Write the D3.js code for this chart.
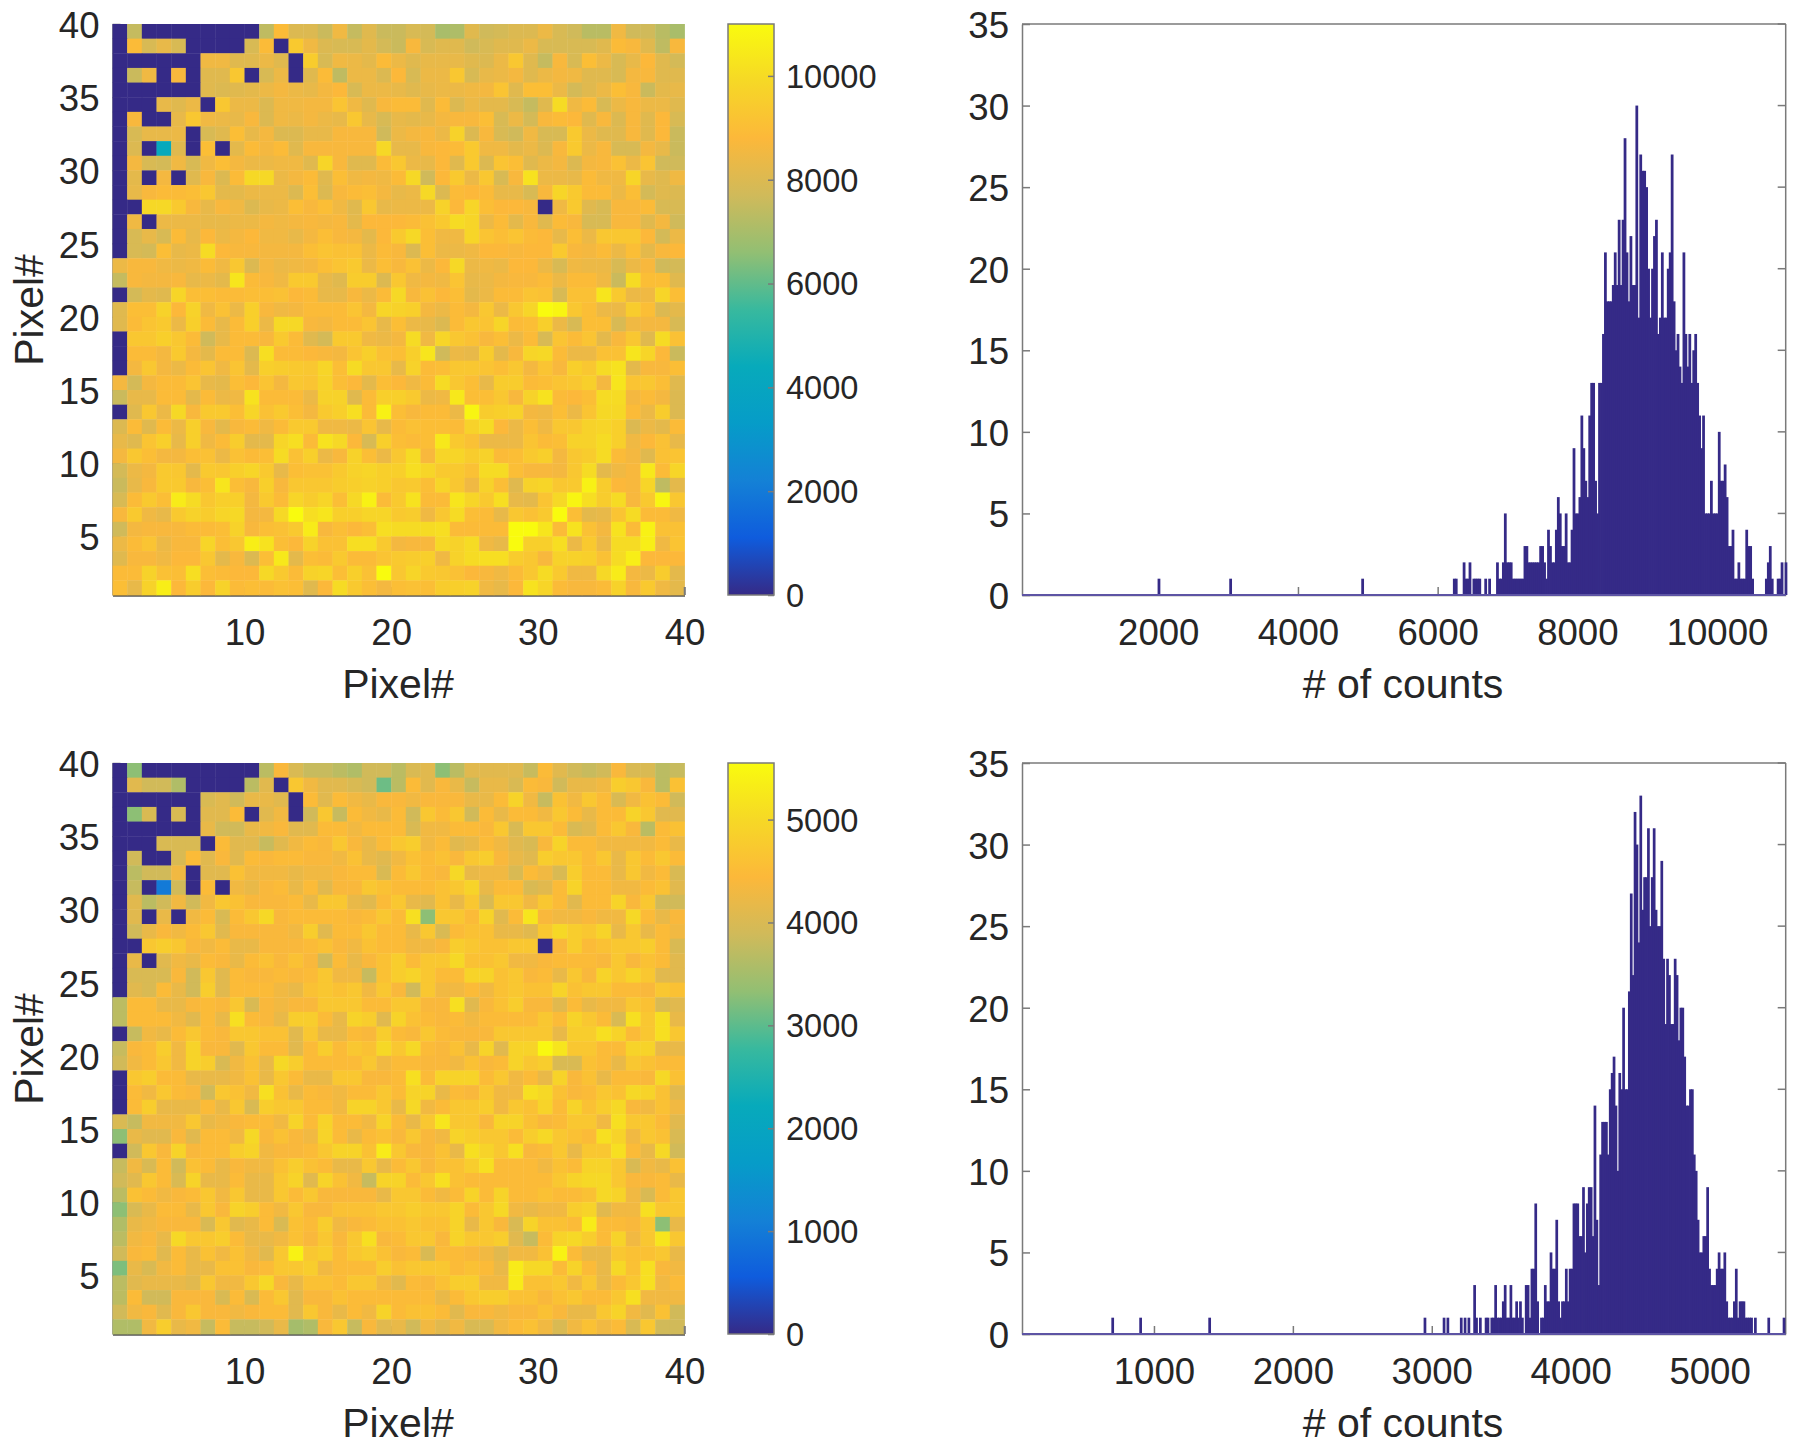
<!DOCTYPE html>
<html>
<head>
<meta charset="utf-8">
<script src="https://cdn.jsdelivr.net/npm/d3@7"></script>
<style>
    body { margin: 0; background: #fff; }
    text { font-family: "Liberation Sans", Arial, sans-serif; fill: #262626; }
</style>
</head>
<body>
<script>
//data
//cell values in hundreds of counts, first row is Pixel# 39-40, last row is Pixel# 1-2
var heatTopRows = [
[0,75,0,0,0,0,0,0,0,0,74,89,80,80,76,85,75,81,76,76,79,78,70,71,81,77,78,80,80,84,79,77,73,73,85,77,77,73,70],
[0,89,79,83,79,0,0,0,0,79,89,0,94,85,80,79,79,82,78,76,87,79,81,81,77,79,81,81,84,79,79,79,79,81,89,87,81,74,87],
[0,0,0,0,0,0,85,85,81,81,84,81,0,95,79,85,84,82,89,84,81,83,83,83,81,80,84,93,81,75,87,79,90,84,79,83,88,81,78],
[0,76,85,0,87,0,81,81,93,0,79,84,0,81,89,74,84,84,80,88,79,84,84,93,79,83,84,86,81,84,86,85,81,81,79,86,87,81,81],
[0,0,0,0,0,0,81,80,81,82,84,86,84,83,86,88,79,84,84,83,81,83,84,84,85,86,92,81,90,90,84,78,81,84,90,87,76,82,83],
[0,0,0,83,81,84,0,93,84,84,80,85,85,86,86,92,85,81,87,89,89,81,89,80,84,82,82,79,75,81,100,85,89,79,84,87,84,84,81],
[0,87,0,0,83,93,85,84,83,87,80,85,84,86,84,83,93,83,79,83,82,83,86,87,87,90,79,84,78,87,89,88,81,87,80,87,81,88,79],
[0,79,83,83,84,0,79,81,90,83,86,80,80,83,83,87,87,87,77,84,86,87,84,97,80,87,79,77,85,79,79,94,84,81,81,87,81,88,76],
[0,80,0,43,81,0,90,0,82,89,86,89,81,87,87,87,87,87,99,83,83,87,88,89,94,85,85,82,84,80,87,94,84,87,79,79,86,83,76],
[0,86,79,78,85,79,85,90,86,84,84,85,85,81,98,87,81,81,89,93,84,83,88,81,94,80,92,90,81,84,86,80,86,87,91,84,92,77,77],
[0,82,0,86,0,81,87,80,89,99,99,84,86,89,81,90,85,86,85,89,99,77,88,94,84,93,79,87,102,84,84,83,89,85,85,98,83,81,85],
[0,83,87,89,89,90,93,82,82,84,84,84,80,90,80,87,89,90,86,83,84,99,80,89,88,89,83,83,79,87,98,94,89,89,84,90,78,81,80],
[0,0,99,99,94,87,83,87,85,80,83,84,90,87,90,85,81,93,83,84,84,84,97,88,98,90,88,88,87,0,85,94,81,79,87,87,89,79,79],
[0,85,0,84,84,84,83,83,84,84,86,85,86,87,86,87,82,88,88,88,89,91,94,100,98,84,89,82,87,81,89,87,79,79,87,87,81,86,77],
[0,79,83,79,89,83,88,84,86,88,85,85,83,86,90,87,86,82,88,94,99,90,85,85,98,92,90,92,89,88,83,90,84,93,93,93,88,78,84],
[0,79,78,90,83,84,100,88,87,87,86,86,86,90,92,91,91,84,89,87,80,90,84,84,85,88,88,87,88,88,94,87,86,89,84,90,82,87,88],
[84,87,87,85,84,85,89,85,93,80,86,84,85,86,90,92,94,84,90,87,91,84,88,99,84,85,84,88,88,84,79,85,84,84,79,84,87,77,78],
[75,87,86,86,87,83,84,82,103,89,87,85,94,94,83,81,95,95,80,93,85,86,85,92,83,84,86,87,87,89,84,89,89,85,76,100,90,90,81],
[0,78,82,81,98,90,90,89,89,90,90,91,88,89,83,83,87,84,89,99,87,91,88,90,82,84,89,89,92,91,79,91,91,103,94,84,85,98,90],
[81,90,90,97,88,97,85,91,84,96,87,85,86,89,89,89,92,86,98,97,96,86,84,89,86,93,84,93,98,110,108,93,90,84,84,95,90,80,82],
[81,89,92,94,84,96,89,83,89,96,84,99,99,87,86,89,89,92,83,90,84,83,80,89,93,92,98,89,90,96,84,79,90,90,79,85,86,86,79],
[0,93,93,96,93,89,77,83,89,89,87,94,89,81,78,94,94,85,84,86,100,85,98,93,91,87,90,84,89,79,92,89,92,82,87,93,81,100,91],
[0,89,89,86,94,86,82,89,89,80,101,89,89,88,87,86,92,96,91,90,96,103,77,84,83,95,82,87,98,99,89,84,84,91,91,103,98,88,76],
[0,86,93,86,84,89,92,85,92,82,96,95,94,93,98,90,100,93,93,83,97,89,90,93,93,92,90,93,86,92,87,96,93,100,102,82,87,87,90],
[86,78,86,89,89,92,83,82,90,88,92,86,93,92,97,90,88,82,90,88,85,89,100,93,90,83,95,95,89,90,92,93,96,86,103,92,93,90,81],
[76,83,83,89,89,82,89,84,85,102,89,89,89,84,97,97,81,89,96,96,94,84,85,104,90,90,93,87,97,102,89,88,90,100,100,86,89,86,80],
[0,81,93,84,99,87,94,94,90,98,91,94,90,86,94,96,101,89,107,90,87,89,89,84,108,95,96,97,86,85,90,84,92,99,99,89,84,95,80],
[80,89,81,89,84,96,87,82,87,89,85,89,94,94,85,85,84,92,83,89,91,90,90,89,97,100,88,84,90,85,93,93,97,98,96,80,84,82,89],
[83,81,92,96,83,96,85,89,95,82,82,98,101,89,102,99,88,79,96,90,89,90,104,94,91,84,84,84,92,89,90,97,97,100,96,85,88,91,83],
[86,93,90,86,86,90,91,84,91,89,90,100,91,96,84,87,97,90,84,93,100,87,98,98,95,97,89,90,94,96,86,93,95,100,89,86,81,91,92],
[78,84,86,94,93,82,94,93,96,98,94,83,90,91,91,94,97,98,96,96,101,98,94,94,91,100,100,90,87,87,86,93,100,82,85,87,104,89,98],
[76,83,87,94,94,87,90,103,90,87,96,87,93,93,93,95,96,97,96,93,94,90,98,93,85,97,90,81,97,98,93,94,107,95,88,87,98,74,82],
[79,89,94,90,105,100,93,96,96,86,94,89,98,95,98,90,99,107,89,94,102,89,89,103,98,94,101,83,82,92,99,108,101,95,100,87,94,108,93],
[87,94,85,83,94,97,95,98,99,86,86,99,110,101,103,96,96,98,98,94,95,85,93,100,90,89,83,93,91,94,110,90,82,83,92,100,89,89,85],
[77,86,87,87,87,89,89,90,97,87,90,91,94,105,87,90,88,90,101,100,100,100,101,89,89,89,89,110,110,103,89,102,91,86,102,89,107,91,91],
[84,89,92,84,87,87,98,90,93,106,102,90,88,97,91,91,101,101,94,86,87,87,99,97,100,85,83,110,96,96,101,84,94,84,100,100,106,85,92],
[81,87,87,85,88,88,93,82,87,80,90,104,82,90,89,94,89,89,92,94,95,96,85,97,100,101,101,95,93,87,97,97,96,91,100,106,88,88,88],
[89,89,97,91,90,101,90,89,88,88,99,94,89,97,98,90,96,91,110,93,98,94,93,91,88,87,85,89,93,100,94,85,85,99,105,86,84,95,82],
[90,83,97,106,88,95,88,97,89,90,89,91,90,81,88,100,94,90,86,90,91,90,95,96,97,85,83,88,102,98,89,87,87,89,97,87,94,85,82]
];

var heatBottomRows = [
[0,33,0,0,0,0,0,0,0,0,37,44,40,38,38,37,36,39,39,37,40,41,33,37,41,41,41,41,38,45,41,39,38,39,44,40,40,37,38],
[0,41,39,39,36,0,0,0,0,37,41,0,47,43,41,41,40,39,31,37,45,41,44,42,38,42,42,40,45,44,39,42,42,43,48,47,44,37,46],
[0,0,0,0,0,0,40,41,39,42,42,41,0,45,41,45,43,42,44,44,43,44,44,44,42,42,45,49,43,38,46,43,47,45,40,43,46,45,39],
[0,33,40,0,40,0,41,41,45,0,41,43,0,39,47,38,45,43,42,45,39,47,45,47,39,45,42,45,45,43,47,45,42,45,45,49,47,41,41],
[0,0,0,0,0,0,42,39,39,42,43,44,41,41,45,45,43,45,45,45,40,43,43,45,45,44,47,40,47,47,45,40,41,45,47,44,37,45,46],
[0,0,0,40,40,40,0,45,41,41,38,41,43,45,44,47,44,42,45,47,48,43,45,41,42,45,43,41,40,44,49,45,45,43,43,43,43,45,42],
[0,39,0,0,40,45,41,44,41,45,44,45,45,44,44,43,46,42,41,43,46,45,46,44,47,48,44,42,41,48,47,47,45,47,42,47,45,47,45],
[0,37,39,39,43,0,41,41,46,43,43,43,42,43,43,44,45,45,40,45,47,45,44,50,42,43,43,40,45,43,40,48,45,45,42,47,43,45,40],
[0,38,0,10,39,0,45,0,43,42,44,45,42,45,41,44,44,47,46,45,45,45,46,47,49,42,45,45,40,41,45,49,45,45,43,43,45,46,41],
[0,41,37,39,43,39,43,47,46,44,44,44,45,42,47,47,42,41,45,47,42,41,46,42,47,40,47,47,43,47,45,41,45,45,49,44,47,39,39],
[0,41,0,42,0,43,45,40,45,47,50,44,45,45,45,45,44,45,47,45,51,33,47,47,45,49,41,45,52,44,43,43,44,43,43,50,45,42,44],
[0,39,42,44,43,45,47,41,44,44,44,44,43,48,41,45,45,47,45,45,42,47,40,45,46,46,42,42,41,47,50,48,47,49,42,47,42,45,43],
[0,0,47,48,47,44,43,45,42,42,44,44,44,45,46,44,43,46,45,45,43,43,44,48,47,46,46,47,47,0,44,48,45,46,47,47,48,45,40],
[0,42,0,41,43,42,45,44,42,45,46,44,46,44,39,45,42,44,46,48,45,47,47,50,46,46,47,43,43,44,45,45,45,44,47,44,46,45,41],
[0,40,40,40,44,39,47,41,45,44,44,45,44,45,47,43,43,38,46,48,49,47,45,45,49,49,46,47,44,45,42,47,44,49,47,49,47,41,41],
[0,41,40,45,42,39,48,41,45,45,45,43,42,46,47,46,47,43,47,44,39,47,43,43,45,43,46,47,46,46,49,46,47,47,45,45,44,47,46],
[37,45,45,42,42,44,45,44,47,40,44,43,44,44,47,47,47,45,45,47,47,44,44,51,41,44,46,48,44,44,41,45,42,43,43,47,46,40,41],
[37,45,45,45,43,41,45,42,51,45,44,42,48,48,45,42,49,48,41,49,46,45,44,45,43,45,45,45,45,47,45,49,47,45,40,51,47,51,42],
[0,38,43,42,45,47,45,44,47,47,46,46,41,47,42,42,45,44,48,45,44,47,45,44,44,44,47,47,47,47,42,48,48,51,49,45,47,51,47],
[38,44,45,48,43,49,44,44,41,47,45,45,41,45,48,45,47,46,50,47,50,45,44,46,42,49,41,49,49,55,52,47,47,45,45,49,49,42,42],
[39,43,45,47,43,49,48,40,43,46,42,50,48,45,45,45,45,47,43,45,45,44,44,43,46,44,45,49,47,48,40,40,46,45,42,47,46,45,45],
[0,47,48,45,45,42,42,42,43,46,42,47,45,42,42,47,47,44,44,45,51,45,49,49,49,45,47,43,45,42,49,44,46,42,45,45,44,50,46],
[0,45,43,47,45,44,39,47,46,43,51,46,42,45,44,43,45,45,47,45,49,49,42,45,44,47,43,43,51,50,46,44,45,47,46,50,49,46,41],
[0,45,48,42,42,42,45,42,47,40,48,47,47,45,45,43,49,49,47,42,50,43,45,47,47,48,43,47,46,49,45,49,46,48,50,44,43,46,43],
[40,38,43,43,43,47,42,43,44,45,45,43,49,45,49,45,45,43,49,45,42,47,52,47,47,44,49,49,46,44,45,47,47,43,51,47,47,45,41],
[33,42,41,41,44,41,45,45,43,50,44,46,44,43,49,45,42,45,46,44,47,44,43,49,48,47,47,45,48,50,47,46,45,51,49,43,47,46,40],
[0,39,47,44,49,44,45,45,48,49,43,44,44,45,47,49,49,46,53,47,44,44,46,42,51,49,47,51,44,45,47,42,47,47,51,45,42,50,39],
[38,43,40,45,39,46,45,42,44,43,43,46,48,46,45,42,42,47,42,45,47,44,46,46,48,51,45,45,45,43,46,45,49,49,47,40,43,42,46],
[39,41,47,45,40,49,42,42,45,42,42,47,49,41,49,46,43,38,49,49,45,47,51,46,45,45,45,45,45,45,47,49,50,50,47,44,44,45,42],
[37,46,45,43,44,45,47,43,47,42,42,47,45,47,44,44,44,44,42,47,47,45,43,45,49,45,49,45,45,46,45,45,46,50,49,43,40,45,47],
[33,40,42,45,45,42,47,44,49,48,45,43,47,44,44,46,46,46,47,47,48,47,47,49,45,47,50,43,42,43,43,48,49,41,43,43,51,47,47],
[36,42,43,44,44,44,40,47,41,42,45,40,46,45,48,43,44,45,46,46,47,46,46,49,42,47,44,40,49,46,46,45,53,45,45,44,47,33,42],
[37,43,44,42,50,47,47,48,45,42,42,43,46,44,47,44,47,51,44,45,47,47,44,49,47,47,48,41,38,45,49,50,48,45,49,43,47,52,47],
[39,44,45,41,45,42,46,43,46,43,41,47,54,47,48,45,47,48,46,44,45,40,45,45,44,43,41,43,43,46,54,45,42,42,47,46,46,47,42],
[32,42,40,43,45,42,42,46,46,44,45,47,47,48,43,45,45,45,48,46,47,47,47,45,46,45,42,53,50,50,45,49,45,42,50,46,51,44,43],
[37,41,42,42,42,41,47,43,43,47,50,44,42,46,46,45,47,47,43,41,45,44,46,48,48,43,43,53,46,46,47,43,47,42,45,47,51,43,45],
[37,45,39,39,44,44,44,40,45,40,45,47,41,44,44,46,45,45,45,45,45,45,42,45,47,48,48,46,46,44,46,47,45,45,47,51,43,43,43],
[39,43,44,41,44,47,44,44,43,44,45,45,41,47,44,42,45,43,49,45,46,46,45,41,44,44,43,44,44,46,44,42,42,47,49,43,41,46,39],
[36,36,43,48,42,43,38,45,38,38,39,42,35,36,44,47,38,44,41,42,39,43,41,43,40,40,43,45,46,43,40,43,46,43,45,40,47,39,39]
];

var histTopCounts = [1,1,0,0,0,2,1,1,2,0,1,1,1,1,0,0,1,0,1,0,0,0,2,1,1,2,5,2,2,2,1,1,1,1,1,1,3,3,2,2,2,2,2,2,3,3,2,1,4,3,2,2,4,6,5,3,3,5,2,2,4,9,5,5,6,11,9,7,6,11,13,13,7,5,13,13,16,21,18,18,18,19,21,19,23,19,23,28,21,18,22,19,19,30,17,27,26,26,25,20,17,20,22,23,16,17,21,17,17,20,21,27,18,15,16,14,13,21,16,14,16,13,15,16,13,11,9,11,5,5,5,7,5,5,5,10,7,7,8,6,3,3,4,1,1,2,1,1,1,4,3,3,1,0,0,0,0,0,0,1,2,3,1,0,0,1,1,2,0,2];
var histBottomCounts = [1,0,0,0,0,0,0,0,0,0,1,0,1,0,0,0,0,0,0,1,0,1,0,1,0,0,3,1,0,1,0,0,1,1,0,1,1,3,1,1,1,2,3,1,1,3,1,1,2,1,2,1,0,3,3,1,4,4,8,2,0,1,1,3,2,2,5,4,4,7,2,1,2,2,4,2,4,4,8,8,8,6,6,9,5,8,9,9,6,14,7,3,11,13,13,13,11,15,16,17,14,10,16,15,20,15,15,21,27,22,32,30,24,33,26,28,28,31,25,28,31,26,25,25,29,23,19,23,22,19,19,23,22,18,20,20,17,14,14,15,15,11,10,7,5,5,6,6,9,4,3,3,3,4,5,4,4,5,2,1,1,1,2,4,1,2,2,2,1,1,1,1,0,1,0,0,0,0,0,0,1,0,0,0,0,0,0,0,1];
var histTopOutliers = [2010, 3036, 4926];
var histBottomOutliers = [703, 904, 1401];
var histTopStart = 6238;
var histTopBinWidth = 28.1;
var histBottomStart = 2951;
var histBottomBinWidth = 13.75;
//end data

var xDomainTop = [49, 10983];
var xDomainBottom = [50, 5548];
var colorMaxTop = 11000;
var colorMaxBottom = 5550;

var heatXTicks = [10, 20, 30, 40];
var heatYTicks = [5, 10, 15, 20, 25, 30, 35, 40];
var colorTicksTop = [0, 2000, 4000, 6000, 8000, 10000];
var colorTicksBottom = [0, 1000, 2000, 3000, 4000, 5000];
var histYTicks = [0, 5, 10, 15, 20, 25, 30, 35];
var histXTicksTop = [2000, 4000, 6000, 8000, 10000];
var histXTicksBottom = [1000, 2000, 3000, 4000, 5000];

var parulaStops = ['#352a87', '#0f5cdd', '#1481d6', '#069cc8', '#07aabb', '#38b99e', '#92bf73', '#d0ba5a', '#fcb83a', '#f6d826', '#f9fb0e'];
var parulaDomain = [0, .1, .2, .3, .4, .5, .6, .7, .8, .9, 1];
var parula = d3.scaleLinear().domain(parulaDomain).range(parulaStops).clamp(true);

var axisColor = '#7a7a7a';
var barColor = '#352a87';
var tickFont = 36.6;
var colorbarFont = 32.6;
var labelFont = 41;

var svg = d3.select('body').append('svg')
    .attr('width', 1800)
    .attr('height', 1451);

var defs = svg.append('defs');
var gradient = defs.append('linearGradient')
    .attr('id', 'parulaGradient')
    .attr('x1', 0).attr('x2', 0).attr('y1', 1).attr('y2', 0);
gradient.selectAll('stop')
    .data(parulaDomain)
    .enter().append('stop')
    .attr('offset', function(d){return d;})
    .attr('stop-color', function(d,i){return parulaStops[i];});

function styleAxis(g, size){
    g.selectAll('path').attr('stroke', axisColor).attr('stroke-width', 1.5);
    g.selectAll('line').attr('stroke', axisColor).attr('stroke-width', 1.5);
    g.selectAll('text')
        .attr('font-family', '"Liberation Sans", Arial, sans-serif')
        .attr('font-size', size)
        .attr('fill', '#262626');
}

function boxLine(g, x1, y1, x2, y2){
    g.append('line')
        .attr('x1', x1).attr('y1', y1).attr('x2', x2).attr('y2', y2)
        .attr('stroke', axisColor).attr('stroke-width', 1.5);
}

function xLabel(text, x, y){
    svg.append('text')
        .attr('x', x).attr('y', y)
        .attr('text-anchor', 'middle')
        .attr('font-size', labelFont)
        .text(text);
}

function drawHeat(rows, colorMax, top, bottom){
    var left = 112.5, right = 684.5;
    var x = d3.scaleLinear().domain([1, 40]).range([left, right]);
    var y = d3.scaleLinear().domain([1, 40]).range([bottom, top]);
    var color = function(v){return parula(v * 100 / colorMax);};

    var g = svg.append('g');

    //axes go under the cells like in the matlab figure
    var gx = g.append('g')
        .attr('transform', 'translate(0,' + bottom + ')')
        .call(d3.axisBottom(x).tickValues(heatXTicks).tickFormat(d3.format('d')).tickSizeInner(-8).tickSizeOuter(0).tickPadding(24));
    styleAxis(gx, tickFont);
    gx.select('path').attr('stroke', '#555').attr('stroke-width', 2.5);

    var gy = g.append('g')
        .attr('transform', 'translate(' + left + ',0)')
        .call(d3.axisLeft(y).tickValues(heatYTicks).tickFormat(d3.format('d')).tickSizeInner(-8).tickSizeOuter(0).tickPadding(13));
    styleAxis(gy, tickFont);
    gy.selectAll('text').attr('dy', '.37em');

    var cells = [];
    rows.forEach(function(row, r){
        row.forEach(function(v, c){
            cells.push({col: c + 1, row: 39 - r, value: v});
        });
    });

    g.append('g').selectAll('rect')
        .data(cells)
        .enter().append('rect')
        .attr('x', function(d){return x(d.col);})
        .attr('y', function(d){return y(d.row + 1);})
        .attr('width', x(2) - x(1) + .4)
        .attr('height', y(1) - y(2) + .4)
        .attr('fill', function(d){return color(d.value);});

    //end tick of the x axis sticks out past the cells
    boxLine(g, right, bottom, right, bottom - 8);

    xLabel('Pixel#', 398, bottom + 103);
    svg.append('text')
        .attr('transform', 'translate(43,' + (top + 286) + ') rotate(-90)')
        .attr('text-anchor', 'middle')
        .attr('font-size', labelFont)
        .text('Pixel#');
}

function drawColorbar(ticks, colorMax, top, bottom){
    var left = 728, right = 774;
    var y = d3.scaleLinear().domain([0, colorMax]).range([bottom, top]);

    svg.append('rect')
        .attr('x', left).attr('y', top)
        .attr('width', right - left).attr('height', bottom - top)
        .attr('fill', 'url(#parulaGradient)')
        .attr('stroke', axisColor)
        .attr('stroke-width', 1.5);

    var gy = svg.append('g')
        .attr('transform', 'translate(' + right + ',0)')
        .call(d3.axisRight(y).tickValues(ticks).tickFormat(d3.format('d')).tickSizeInner(-6).tickSizeOuter(0).tickPadding(12));
    styleAxis(gy, colorbarFont);
    gy.selectAll('text').attr('dy', '.35em');
    gy.select('path').remove();
}

function drawHist(counts, start, binWidth, outliers, xDomain, xTicks, top, bottom){
    var left = 1022, right = 1785.7;
    var x = d3.scaleLinear().domain(xDomain).range([left, right]);
    var y = d3.scaleLinear().domain([0, 35]).range([bottom, top]);

    var bars = outliers.map(function(v){return {value: v, count: 1};});
    counts.forEach(function(c, i){
        if(c > 0){
            bars.push({value: start + i * binWidth, count: c});
        }
    });

    var g = svg.append('g');

    //box, ticks on the top and right sides too
    boxLine(g, left, top, right, top);
    boxLine(g, right, top, right, bottom);
    g.append('g').selectAll('line')
        .data(histYTicks)
        .enter().append('line')
        .attr('x1', right).attr('x2', right - 8)
        .attr('y1', function(d){return y(d);})
        .attr('y2', function(d){return y(d);})
        .attr('stroke', axisColor)
        .attr('stroke-width', 1.5);

    var gx = g.append('g')
        .attr('transform', 'translate(0,' + bottom + ')')
        .call(d3.axisBottom(x).tickValues(xTicks).tickFormat(d3.format('d')).tickSizeInner(-8).tickSizeOuter(0).tickPadding(24));
    styleAxis(gx, tickFont);

    var gy = g.append('g')
        .attr('transform', 'translate(' + left + ',0)')
        .call(d3.axisLeft(y).tickValues(histYTicks).tickFormat(d3.format('d')).tickSizeInner(-8).tickSizeOuter(0).tickPadding(13));
    styleAxis(gy, tickFont);
    gy.selectAll('text').attr('dy', '.37em');

    var barWidth = x(binWidth) - x(0);

    //a bit wider than the bin, neighbours overlap so the body stays solid
    g.append('g').selectAll('rect')
        .data(bars)
        .enter().append('rect')
        .attr('x', function(d){return x(d.value) - barWidth / 2 - .4;})
        .attr('y', function(d){return y(d.count);})
        .attr('width', barWidth + .8)
        .attr('height', function(d){return y(0) - y(d.count);})
        .attr('fill', barColor);

    //zero height bins still leave their edge along the bottom
    g.append('line')
        .attr('x1', left).attr('x2', right)
        .attr('y1', y(0)).attr('y2', y(0))
        .attr('stroke', '#5d54a4')
        .attr('stroke-width', 2);

    xLabel('# of counts', 1403, bottom + 103);
}

drawHeat(heatTopRows, colorMaxTop, 24, 595);
drawColorbar(colorTicksTop, colorMaxTop, 24, 595);
drawHist(histTopCounts, histTopStart, histTopBinWidth, histTopOutliers, xDomainTop, histXTicksTop, 24, 595);

drawHeat(heatBottomRows, colorMaxBottom, 763, 1334);
drawColorbar(colorTicksBottom, colorMaxBottom, 763, 1334);
drawHist(histBottomCounts, histBottomStart, histBottomBinWidth, histBottomOutliers, xDomainBottom, histXTicksBottom, 763, 1334);
</script>
</body>
</html>
